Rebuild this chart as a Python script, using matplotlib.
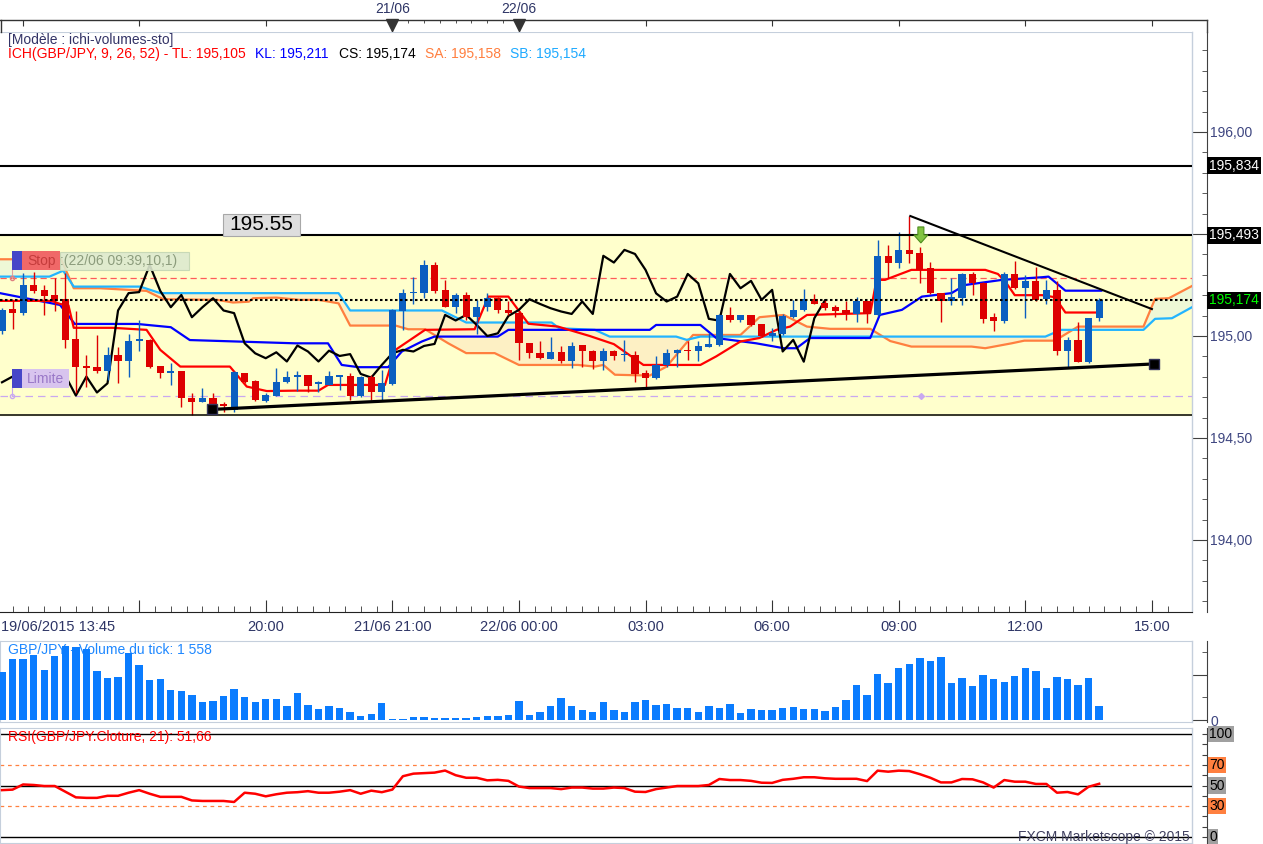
import numpy as np
import matplotlib
matplotlib.use('Agg')
import matplotlib.pyplot as plt
from matplotlib.patches import Rectangle, Polygon
from matplotlib.lines import Line2D
from matplotlib.transforms import blended_transform_factory

W, H = 1263, 844
plt.rcParams['font.family'] = ['Liberation Sans', 'DejaVu Sans']

# 15 min bars, index 0 = 19/06/2015 13:45 (weekend gap removed)
opens = [195.022, 195.131, 195.112, 195.250, 195.226, 195.201, 195.182, 194.987, 194.853, 194.850,
         194.829, 194.907, 194.875, 194.976, 194.981, 194.853, 194.817, 194.829, 194.695, 194.674,
         194.695, 194.665, 194.638, 194.817, 194.780, 194.683, 194.708, 194.773, 194.801, 194.809,
         194.765, 194.760, 194.801, 194.806, 194.708, 194.801, 194.723, 194.765, 195.120, 195.210,
         195.210, 195.348, 195.226, 195.141, 195.201, 195.092, 195.141, 195.185, 195.128, 195.115,
         194.964, 194.915, 194.888, 194.920, 194.875, 194.955, 194.924, 194.875, 194.928, 194.906,
         194.907, 194.817, 194.796, 194.858, 194.915, 194.932, 194.924, 194.948, 194.956, 195.103,
         195.076, 195.103, 195.059, 195.000, 195.010, 195.092, 195.125, 195.180, 195.160, 195.144,
         195.125, 195.108, 195.169, 195.103, 195.392, 195.360, 195.422, 195.409, 195.332, 195.209,
         195.169, 195.185, 195.304, 195.262, 195.092, 195.075, 195.304, 195.234, 195.270, 195.180,
         195.226, 194.924, 194.981, 194.874, 195.087]
highs = [195.135, 195.169, 195.311, 195.316, 195.250, 195.286, 195.308, 195.120, 194.907, 195.005,
         194.948, 194.948, 195.010, 195.076, 194.985, 194.855, 194.866, 194.830, 194.719, 194.744,
         194.719, 194.675, 194.826, 194.820, 194.785, 194.719, 194.842, 194.826, 194.826, 194.810,
         194.781, 194.829, 194.806, 194.817, 194.806, 194.810, 194.834, 195.130, 195.229, 195.291,
         195.373, 195.365, 195.275, 195.210, 195.218, 195.177, 195.210, 195.190, 195.169, 195.120,
         194.967, 194.973, 194.994, 194.951, 194.971, 194.958, 194.930, 194.940, 194.930, 194.981,
         194.924, 194.834, 194.902, 194.935, 194.935, 194.973, 194.973, 195.013, 195.110, 195.141,
         195.105, 195.105, 195.060, 195.038, 195.108, 195.174, 195.229, 195.206, 195.177, 195.152,
         195.169, 195.193, 195.170, 195.471, 195.446, 195.508, 195.589, 195.438, 195.365, 195.212,
         195.283, 195.310, 195.316, 195.265, 195.111, 195.316, 195.368, 195.300, 195.340, 195.272,
         195.270, 194.997, 195.070, 195.090, 195.188]
lows = [195.010, 195.033, 195.105, 195.210, 195.103, 195.120, 194.940, 194.719, 194.752, 194.817,
        194.785, 194.768, 194.801, 194.924, 194.845, 194.793, 194.760, 194.654, 194.613, 194.674,
        194.629, 194.625, 194.629, 194.768, 194.683, 194.678, 194.708, 194.768, 194.730, 194.723,
        194.727, 194.760, 194.736, 194.687, 194.700, 194.687, 194.687, 194.760, 195.030, 195.157,
        195.185, 195.213, 195.140, 195.112, 195.079, 195.010, 195.120, 195.115, 195.103, 194.883,
        194.891, 194.889, 194.886, 194.866, 194.842, 194.847, 194.837, 194.834, 194.883, 194.875,
        194.772, 194.747, 194.790, 194.847, 194.847, 194.883, 194.879, 194.945, 194.950, 195.070,
        195.070, 195.050, 194.994, 194.977, 195.005, 195.087, 195.120, 195.155, 195.128, 195.092,
        195.079, 195.070, 195.066, 195.100, 195.283, 195.332, 195.357, 195.258, 195.205, 195.070,
        195.152, 195.152, 195.201, 195.066, 195.022, 195.062, 195.230, 195.087, 195.170, 195.157,
        194.907, 194.850, 194.870, 194.866, 195.075]
closes = [195.128, 195.112, 195.250, 195.221, 195.198, 195.169, 194.981, 194.850, 194.845, 194.830,
          194.907, 194.875, 194.976, 194.984, 194.850, 194.817, 194.829, 194.695, 194.674, 194.695,
          194.638, 194.655, 194.821, 194.773, 194.687, 194.711, 194.773, 194.801, 194.809, 194.757,
          194.773, 194.806, 194.806, 194.708, 194.801, 194.723, 194.768, 195.125, 195.210, 195.215,
          195.348, 195.221, 195.141, 195.201, 195.092, 195.141, 195.185, 195.125, 195.112, 194.964,
          194.915, 194.891, 194.920, 194.875, 194.953, 194.924, 194.875, 194.928, 194.902, 194.911,
          194.814, 194.796, 194.858, 194.915, 194.932, 194.924, 194.951, 194.961, 195.103, 195.076,
          195.103, 195.054, 195.000, 195.013, 195.098, 195.128, 195.180, 195.157, 195.136, 195.120,
          195.108, 195.169, 195.108, 195.393, 195.360, 195.422, 195.402, 195.324, 195.209, 195.169,
          195.193, 195.304, 195.258, 195.084, 195.075, 195.304, 195.234, 195.270, 195.177, 195.226,
          194.924, 194.981, 194.874, 195.087, 195.174]
volumes = [5330, 6770, 6770, 7220, 5550, 7100, 8210, 8100, 7880, 5440,
           4660, 4770, 7440, 6100, 4440, 4550, 3330, 3220, 2780, 2000,
           2110, 2660, 3440, 2550, 2000, 2330, 2330, 1550, 3000, 1670,
           1220, 1550, 1330, 890, 440, 670, 1890, 110, 110, 330,
           330, 220, 220, 220, 220, 330, 440, 440, 560, 2110,
           560, 890, 1550, 2440, 1550, 1110, 890, 2000, 1110, 890,
           2000, 2220, 1670, 1780, 1330, 1330, 890, 1550, 1330, 1780,
           780, 1220, 1110, 1110, 1330, 1440, 1220, 1220, 1000, 1440,
           2220, 3890, 2780, 5110, 4110, 5770, 6220, 6880, 6550, 6990,
           4110, 4660, 3770, 5000, 4550, 4220, 4880, 5770, 5440, 3550,
           4770, 4550, 3890, 4660, 1558]
rsi = [45.5, 46, 51, 50.5, 49.5, 49.5, 44, 38.5, 38, 38,
       40, 40, 43, 45.5, 42, 39, 39, 39, 35.5, 35,
       35, 35, 34, 43, 42, 39.5, 41.5, 43, 43.5, 44.5,
       43, 43, 44, 45.5, 42, 45, 43.5, 46, 59, 61.5,
       62, 62.5, 64.5, 60, 57.5, 57.5, 55, 55.5, 54.5, 49,
       47.5, 47.5, 47.5, 46.5, 48, 48, 47, 47, 48, 47.5,
       44, 43.7, 46.5, 48, 49.5, 49.5, 49.5, 50.5, 56.3, 55.3,
       55.3, 54.5, 52.7, 52.5, 55.5, 56.5, 58, 58, 57, 56.5,
       56.5, 56.5, 54.3, 64.4, 63.4, 64.4, 64, 61, 57.5, 53,
       53, 56.3, 56, 53, 48, 55.3, 53.7, 53.7, 51.5, 51.5,
       43, 43.7, 41.4, 48.8, 51.66]

# ichimoku lines (bar index, price)
tl_x = [-0.2, 4.7, 5.5, 6.3, 6.8, 10.5, 13.7, 15.0, 16.9, 21.6, 23.2, 25.1, 27.8, 30.0, 30.9, 36.3, 37.3,
        40.1, 44.8, 46.1, 48.0, 49.9, 52.7, 55.7, 58.0, 60.8, 66.2, 67.7, 70.0, 71.8, 73.4, 74.7, 76.3,
        82.3, 82.9, 83.7, 86.2, 93.2, 94.4, 95.1, 96.0, 98.6, 99.8, 100.8, 104.0]
tl_y = [195.172, 195.172, 195.157, 195.150, 195.040, 195.040, 195.030, 194.932, 194.850, 194.850,
        194.752, 194.730, 194.732, 194.732, 194.760, 194.760, 194.932, 195.030, 195.033, 195.193,
        195.193, 195.060, 195.046, 195.000, 194.960, 194.858, 194.858, 194.900, 194.973, 194.990,
        195.030, 195.046, 195.103, 195.112, 195.275, 195.275, 195.324, 195.324, 195.304, 195.267,
        195.200, 195.200, 195.190, 195.115, 195.115]
kl_x = [-0.2, 5.5, 6.9, 12.8, 16.0, 17.8, 27.8, 30.9, 32.2, 33.8, 36.6, 37.9, 39.8, 41.0, 47.0, 48.0,
        61.4, 62.0, 66.2, 67.7, 71.5, 74.1, 75.3, 76.6, 82.3, 83.2, 85.3, 87.2, 90.0, 91.3, 94.8,
        98.6, 99.2, 100.8, 104.2]
kl_y = [195.210, 195.152, 195.059, 195.059, 195.043, 194.980, 194.964, 194.964, 194.858, 194.847,
        194.847, 194.924, 194.973, 194.997, 194.997, 195.030, 195.030, 195.054, 195.054, 194.990,
        194.964, 194.940, 194.940, 194.990, 194.990, 195.103, 195.128, 195.193, 195.210, 195.250,
        195.275, 195.288, 195.291, 195.222, 195.222]
sa_x = [-0.2, 5.6, 6.8, 9.3, 13.7, 15.3, 20.4, 21.9, 23.4, 23.8, 26.0, 28.2, 30.0, 31.9, 33.0, 37.3,
        38.5, 40.1, 42.3, 44.0, 46.7, 49.0, 54.6, 56.2, 57.0, 58.1, 61.4, 63.0, 65.5, 70.0, 71.8, 74.1,
        76.3, 78.5, 82.3, 84.2, 86.2, 91.9, 93.2, 95.7, 96.9, 99.8, 102.0, 108.2, 109.3, 110.6, 112.8]
sa_y = [195.376, 195.376, 195.234, 195.234, 195.221, 195.180, 195.177, 195.164, 195.168, 195.185,
        195.188, 195.177, 195.177, 195.160, 195.051, 195.051, 195.033, 195.033, 194.964, 194.916,
        194.916, 194.858, 194.858, 194.850, 194.858, 194.810, 194.806, 194.850, 195.005, 195.005,
        195.092, 195.103, 195.046, 195.035, 195.035, 194.975, 194.948, 194.948, 194.940, 194.964,
        194.977, 194.977, 195.046, 195.046, 195.182, 195.185, 195.245]
sb_x = [-0.2, 4.5, 5.8, 6.8, 13.1, 15.0, 31.9, 33.0, 41.7, 44.0, 52.1, 52.8, 56.2, 57.6, 63.9, 64.9,
        66.2, 98.9, 99.8, 100.4, 108.2, 109.3, 110.9, 112.8]
sb_y = [195.291, 195.291, 195.320, 195.242, 195.242, 195.210, 195.210, 195.125, 195.125, 195.066,
        195.066, 195.038, 195.030, 194.997, 194.997, 194.981, 194.997, 194.997, 195.017, 195.030,
        195.030, 195.084, 195.087, 195.141]

time_ticks = [13, 25, 37, 49, 61, 73, 85, 97, 109]
time_labels = ['', '20:00', '21/06 21:00', '22/06 00:00', '03:00', '06:00', '09:00', '12:00', '15:00']

resist_level = 195.834
box_top = 195.493
box_bottom = 194.613
last_price = 195.174
stop_level = 195.284
limit_level = 194.707
support_line = ([19.9, 109.2], [194.640, 194.863])
falling_line = ([86.1, 109.0], [195.588, 195.132])
sell_signal = (87.1, 195.456)

X_MIN, X_MAX = -0.19, 112.8
PX_X = 10.55   # pixels per bar
PX_Y = 204.0   # pixels per price unit
BORDER = '#c5cfdc'
AXIS = '#404040'
LABEL = '#3d4580'
UP = '#0b5fc0'
DOWN = '#dd0000'

fig = plt.figure(figsize=(W / 100, H / 100), dpi=100)
fig.patch.set_facecolor('white')


def axes_px(x0, y0, x1, y1):
    return fig.add_axes([x0 / W, 1 - y1 / H, (x1 - x0) / W, (y1 - y0) / H])


def px_text(x, y, s, **kw):
    kw.setdefault('va', 'center')
    kw.setdefault('fontsize', 10)
    return fig.text(x / W, 1 - y / H, s, **kw)


def px_rect(x0, y0, x1, y1, **kw):
    fig.add_artist(Rectangle((x0 / W, 1 - y1 / H), (x1 - x0) / W, (y1 - y0) / H,
                             transform=fig.transFigure, **kw))


def style_panel(a):
    a.set_xlim(X_MIN, X_MAX)
    for side in ('top', 'left', 'bottom'):
        a.spines[side].set_color(BORDER)
    a.spines['right'].set_position(('outward', 10.8))
    a.spines['right'].set_color(AXIS)
    a.yaxis.tick_right()
    a.tick_params(axis='y', which='both', direction='in', colors=AXIS,
                  labelcolor=LABEL, labelsize=10, pad=2.5)
    a.plot([1, 1], [0, 1], transform=a.transAxes, color=BORDER, lw=1, clip_on=False)


idx = np.arange(len(closes))
o = np.array(opens)
c = np.array(closes)

# ---------------- main price panel ----------------
ax = axes_px(0, 32, 1192, 612)
style_panel(ax)
ax.set_ylim(193.647, 196.490)
ax.spines['bottom'].set_color('#222222')
ax.spines['left'].set_visible(False)

ax.axhspan(box_bottom, box_top, color='#ffffcc', zorder=0)

grid = np.linspace(X_MIN, X_MAX, 1500)
sa_g = np.interp(grid, sa_x, sa_y)
sb_g = np.interp(grid, sb_x, sb_y)
ax.fill_between(grid, sa_g, sb_g, where=sb_g >= sa_g, interpolate=True, color='#fdf0c4', lw=0, zorder=1)
ax.fill_between(grid, sa_g, sb_g, where=sa_g > sb_g, interpolate=True, color='#eef8d6', lw=0, zorder=1)

ax.axhline(stop_level, color='#ff5a5a', lw=0.9, dashes=(5, 3), zorder=2)
ax.axhline(limit_level, color='#c9a8f0', lw=0.9, dashes=(6, 4), zorder=2)

ax.plot(sa_x, sa_y, color='#ff7f3f', lw=1.6, zorder=3)
ax.plot(sb_x, sb_y, color='#22b4ff', lw=1.6, zorder=3)
ax.plot(kl_x, kl_y, color='#0000ff', lw=1.6, zorder=3)
ax.plot(tl_x, tl_y, color='#ff0000', lw=1.6, zorder=3)
# chikou span: closes drawn 26 bars back
ax.plot(idx[26:] - 26, c[26:], color='black', lw=1.6, zorder=3)

cols = np.where(c >= o, UP, DOWN)
ax.vlines(idx, lows, highs, colors=cols, lw=1.0, zorder=4)
body = np.maximum(np.abs(c - o), 0.006)
ax.bar(idx, body, bottom=np.minimum(o, c), width=0.68, color=cols, lw=0, zorder=4)

ax.axhline(resist_level, color='black', lw=1.5, zorder=5)
ax.axhline(box_top, color='black', lw=1.5, zorder=5)
ax.axhline(box_bottom, color='black', lw=1.1, zorder=5)
ax.axhline(last_price, color='black', lw=1.5, linestyle=(0, (1.2, 1.2)), zorder=5)

ax.plot(*support_line, color='black', lw=2.3, zorder=6)
ax.plot(*falling_line, color='black', lw=1.5, zorder=6)
ax.plot(*support_line, 's', color='black', ms=7, mec='#33335a', mew=1, zorder=7)

# green sell arrow, shape given in pixels around the signal tip
sx, sy = sell_signal
arrow_px = [(-3, 16), (3, 16), (3, 8), (7, 8), (0, 0), (-7, 8), (-3, 8)]
ax.add_patch(Polygon([(sx + dx / PX_X, sy + dy / PX_Y) for dx, dy in arrow_px],
                     closed=True, fc='#82c341', ec='#4f8f1f', lw=0.8, zorder=8))
ax.plot([sx], [limit_level], 'D', color='#c9a8f0', ms=3, zorder=3)

ax.set_yticks([194.0, 194.5, 195.0, 195.5, 196.0])
ax.set_yticklabels(['194,00', '194,50', '195,00', '', '196,00'])
ax.set_yticks(np.arange(193.7, 196.45, 0.1), minor=True)
ax.tick_params(axis='y', which='major', length=10.8)
ax.tick_params(axis='y', which='minor', length=3.6)
ax.set_xticks(time_ticks)
ax.set_xticklabels(time_labels)
ax.set_xticks(np.arange(1, 112, 1.5), minor=True)
ax.tick_params(axis='x', which='both', direction='in', colors='#333333',
               labelcolor='#2e3566', labelsize=10.5, pad=6)
ax.tick_params(axis='x', which='major', length=8.6)
ax.tick_params(axis='x', which='minor', length=4.3)

tr = blended_transform_factory(ax.transAxes, ax.transData)
xl = 1 + 17 / 1192
for val, txt, fg in [(resist_level, '195,834', 'white'), (box_top, '195,493', 'white'),
                     (last_price, '195,174', '#00ff00')]:
    ax.text(xl, val, txt, transform=tr, ha='left', va='center', fontsize=10, color=fg,
            clip_on=False, zorder=10, bbox=dict(boxstyle='square,pad=0.12', fc='black', ec='none'))

# ---------------- top date strip ----------------
ax_t = axes_px(0, 20, 1192, 32)
ax_t.set_xlim(X_MIN, X_MAX)
ax_t.set_ylim(0, 1)
for s in ax_t.spines.values():
    s.set_visible(False)
ax_t.set_yticks([])
ax_t.xaxis.tick_top()
ax_t.set_xticks([2] + time_ticks)
ax_t.set_xticklabels([])
ax_t.set_xticks(np.arange(38.5, 49, 1.5), minor=True)
ax_t.tick_params(axis='x', which='major', direction='in', length=4, color='#333333')
ax_t.tick_params(axis='x', which='minor', direction='in', length=2.5, color='#333333')
for d, lab in [(37, '21/06'), (49, '22/06')]:
    ax_t.plot([d, d], [0, 1], color='#333333', lw=0.8)
    ax_t.plot([d], [0.62], 'v', color='#333333', ms=8, clip_on=False)
    ax_t.text(d, 1.9, lab, ha='center', va='center', fontsize=10, color='#2e3566',
              transform=blended_transform_factory(ax_t.transData, ax_t.transAxes))
fig.add_artist(Line2D([0, 1207 / W], [1 - 20 / H, 1 - 20 / H], color='#333333', lw=1))
fig.add_artist(Line2D([1 / W, 1 / W], [1 - 20 / H, 1 - 32 / H], color='#333333', lw=1))
fig.add_artist(Line2D([1207 / W, 1207 / W], [1 - 20 / H, 1 - 32 / H], color=AXIS, lw=1))

# ---------------- volume panel ----------------
ax_v = axes_px(0, 641, 1192, 722)
style_panel(ax_v)
ax_v.set_ylim(-222, 8770)
ax_v.bar(idx, volumes, width=0.7, color='#0a7cff', lw=0, zorder=3)
ax_v.set_xticks([])
ax_v.set_yticks([0, 5000])
ax_v.set_yticklabels(['0', ''])
ax_v.set_yticks([2500, 7500], minor=True)
ax_v.tick_params(axis='y', which='major', length=10.8)
ax_v.tick_params(axis='y', which='minor', length=3.6)
ax_v.text(8 / 1192, 1 - 9 / 81, 'GBP/JPY - Volume du tick: 1 558', transform=ax_v.transAxes,
          color='#1e88ff', fontsize=10, va='center', ha='left', zorder=1)

# ---------------- RSI panel ----------------
ax_r = axes_px(0, 728, 1192, 843)
style_panel(ax_r)
ax_r.set_ylim(-5.8, 105.8)
for lv in (100, 50, 0):
    ax_r.axhline(lv, color='black', lw=1, zorder=2)
for lv in (70, 30):
    ax_r.axhline(lv, color='#ff8040', lw=0.9, dashes=(3, 3), zorder=2)
ax_r.plot(idx, rsi, color='#ff0000', lw=1.8, zorder=3)
ax_r.set_xticks([])
ax_r.set_yticks(np.arange(0, 101, 10))
ax_r.set_yticklabels([])
ax_r.tick_params(axis='y', which='major', length=3.6)
ax_r.text(8 / 1192, 1 - 9 / 115, 'RSI(GBP/JPY.Cloture, 21): 51,66', transform=ax_r.transAxes,
          color='#ff0000', fontsize=10, va='center', ha='left', zorder=4)
tr_r = blended_transform_factory(ax_r.transAxes, ax_r.transData)
for lv, fc in [(100, '#a0a0a0'), (70, '#ff8040'), (50, '#a0a0a0'), (30, '#ff8040'), (0, '#a0a0a0')]:
    ax_r.text(xl, lv, str(lv), transform=tr_r, ha='left', va='center', fontsize=10, color='black',
              clip_on=False, zorder=10, bbox=dict(boxstyle='square,pad=0.1', fc=fc, ec='none'))
ax_r.text(1190 / 1192, 6 / 115, 'FXCM Marketscope \u00a9 2015', transform=ax_r.transAxes,
          ha='right', va='center', fontsize=10, color='#404060', zorder=4)

# ---------------- texts and labels in pixels ----------------
px_text(8, 40, '[Mod\u00e8le : ichi-volumes-sto]', color='#333366')
for x, s, col in [(8, 'ICH(GBP/JPY, 9, 26, 52) -', '#ff0000'), (172, 'TL: 195,105', '#ff0000'),
                  (255, 'KL: 195,211', '#0000ff'), (339, 'CS: 195,174', 'black'),
                  (425, 'SA: 195,158', '#ff7f3f'), (510, 'SB: 195,154', '#1eaaff')]:
    px_text(x, 54, s, color=col)

px_text(1, 627, '19/06/2015 13:45', color='#2e3566', fontsize=10.5)

# 195.55 tag
px_rect(223, 214, 300, 236, fc='#dedede', ec='#a8a8a8', lw=0.8)
px_text(261.5, 225, '195.55', ha='center', fontsize=15, color='black')

# stop order tag
fig.add_artist(Line2D([12 / W, 12 / W], [1 - 270 / H, 1 - 278 / H], color='#e0a0a0', lw=0.8))
fig.add_artist(Line2D([12 / W], [1 - 278 / H], marker='o', ms=3, mfc='none', mec='#e08080'))
px_rect(60, 252, 189, 270, fc='#dde9cf', ec='#c4d6b4', lw=0.8, alpha=0.9)
px_rect(12, 251, 22, 270, fc='#4646c8', ec='none')
px_rect(22, 251, 60, 270, fc='#f06868', ec='none')
px_text(27, 261, 'Stop', color='#c43c3c')
px_text(60, 261, ':(22/06 09:39,10,1)', color='#8c9c7c')

# limit order tag
fig.add_artist(Line2D([12 / W, 12 / W], [1 - 388 / H, 1 - 396 / H], color='#c9a8f0', lw=0.8))
fig.add_artist(Line2D([12 / W], [1 - 396 / H], marker='o', ms=3, mfc='none', mec='#c9a8f0'))
px_rect(12, 369, 22, 388, fc='#4646c8', ec='none')
px_rect(22, 369, 69, 388, fc='#d8c4ee', ec='none')
px_text(27, 379, 'Limite', color='#9a78c8')

fig.savefig('out.png', dpi=100, facecolor='white')
